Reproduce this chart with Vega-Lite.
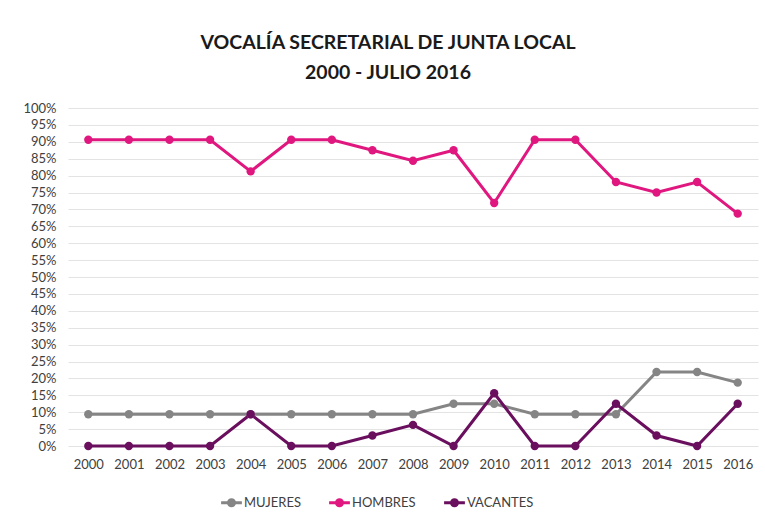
{
  "$schema": "https://vega.github.io/schema/vega-lite/v6.json",
  "width": 690,
  "height": 338,
  "autosize": {"type": "none"},
  "padding": {"left": 68, "top": 108, "right": 7, "bottom": 79},
  "background": "white",
  "title": {
    "text": ["VOCALÍA SECRETARIAL DE JUNTA LOCAL", "2000 - JULIO 2016"],
    "font": "Lato",
    "fontSize": 19.5,
    "fontWeight": "bold",
    "color": "#1a1a1a",
    "lineHeight": 30,
    "anchor": "middle",
    "dx": -25,
    "offset": 19
  },
  "data": {
    "values": [
      {"anio": "2000", "serie": "MUJERES", "valor": 0.094},
      {"anio": "2001", "serie": "MUJERES", "valor": 0.094},
      {"anio": "2002", "serie": "MUJERES", "valor": 0.094},
      {"anio": "2003", "serie": "MUJERES", "valor": 0.094},
      {"anio": "2004", "serie": "MUJERES", "valor": 0.094},
      {"anio": "2005", "serie": "MUJERES", "valor": 0.094},
      {"anio": "2006", "serie": "MUJERES", "valor": 0.094},
      {"anio": "2007", "serie": "MUJERES", "valor": 0.094},
      {"anio": "2008", "serie": "MUJERES", "valor": 0.094},
      {"anio": "2009", "serie": "MUJERES", "valor": 0.125},
      {"anio": "2010", "serie": "MUJERES", "valor": 0.125},
      {"anio": "2011", "serie": "MUJERES", "valor": 0.094},
      {"anio": "2012", "serie": "MUJERES", "valor": 0.094},
      {"anio": "2013", "serie": "MUJERES", "valor": 0.094},
      {"anio": "2014", "serie": "MUJERES", "valor": 0.219},
      {"anio": "2015", "serie": "MUJERES", "valor": 0.219},
      {"anio": "2016", "serie": "MUJERES", "valor": 0.1875},
      {"anio": "2000", "serie": "HOMBRES", "valor": 0.906},
      {"anio": "2001", "serie": "HOMBRES", "valor": 0.906},
      {"anio": "2002", "serie": "HOMBRES", "valor": 0.906},
      {"anio": "2003", "serie": "HOMBRES", "valor": 0.906},
      {"anio": "2004", "serie": "HOMBRES", "valor": 0.8125},
      {"anio": "2005", "serie": "HOMBRES", "valor": 0.906},
      {"anio": "2006", "serie": "HOMBRES", "valor": 0.906},
      {"anio": "2007", "serie": "HOMBRES", "valor": 0.875},
      {"anio": "2008", "serie": "HOMBRES", "valor": 0.844},
      {"anio": "2009", "serie": "HOMBRES", "valor": 0.875},
      {"anio": "2010", "serie": "HOMBRES", "valor": 0.719},
      {"anio": "2011", "serie": "HOMBRES", "valor": 0.906},
      {"anio": "2012", "serie": "HOMBRES", "valor": 0.906},
      {"anio": "2013", "serie": "HOMBRES", "valor": 0.781},
      {"anio": "2014", "serie": "HOMBRES", "valor": 0.75},
      {"anio": "2015", "serie": "HOMBRES", "valor": 0.781},
      {"anio": "2016", "serie": "HOMBRES", "valor": 0.6875},
      {"anio": "2000", "serie": "VACANTES", "valor": 0},
      {"anio": "2001", "serie": "VACANTES", "valor": 0},
      {"anio": "2002", "serie": "VACANTES", "valor": 0},
      {"anio": "2003", "serie": "VACANTES", "valor": 0},
      {"anio": "2004", "serie": "VACANTES", "valor": 0.094},
      {"anio": "2005", "serie": "VACANTES", "valor": 0},
      {"anio": "2006", "serie": "VACANTES", "valor": 0},
      {"anio": "2007", "serie": "VACANTES", "valor": 0.031},
      {"anio": "2008", "serie": "VACANTES", "valor": 0.0625},
      {"anio": "2009", "serie": "VACANTES", "valor": 0},
      {"anio": "2010", "serie": "VACANTES", "valor": 0.156},
      {"anio": "2011", "serie": "VACANTES", "valor": 0},
      {"anio": "2012", "serie": "VACANTES", "valor": 0},
      {"anio": "2013", "serie": "VACANTES", "valor": 0.125},
      {"anio": "2014", "serie": "VACANTES", "valor": 0.031},
      {"anio": "2015", "serie": "VACANTES", "valor": 0},
      {"anio": "2016", "serie": "VACANTES", "valor": 0.125}
    ]
  },
  "mark": {"type": "line", "strokeWidth": 3, "point": {"size": 70, "filled": true}},
  "encoding": {
    "x": {
      "field": "anio",
      "type": "ordinal",
      "scale": {"type": "point", "padding": 0.5},
      "axis": {
        "title": null,
        "labelAngle": 0,
        "domain": false,
        "ticks": false,
        "labelPadding": 12,
        "labelFont": "Lato",
        "labelFontSize": 13,
        "labelColor": "#404040"
      }
    },
    "y": {
      "field": "valor",
      "type": "quantitative",
      "scale": {"domain": [0, 1], "nice": false},
      "axis": {
        "title": null,
        "format": ".0%",
        "values": [0, 0.05, 0.1, 0.15, 0.2, 0.25, 0.3, 0.35, 0.4, 0.45, 0.5, 0.55, 0.6, 0.65, 0.7, 0.75, 0.8, 0.85, 0.9, 0.95, 1],
        "domain": false,
        "ticks": false,
        "labelPadding": 12,
        "labelFont": "Lato",
        "labelFontSize": 13,
        "labelColor": "#404040",
        "gridColor": "#e3e3e3",
        "gridWidth": 1
      }
    },
    "color": {
      "field": "serie",
      "type": "nominal",
      "sort": ["MUJERES", "HOMBRES", "VACANTES"],
      "scale": {"domain": ["MUJERES", "HOMBRES", "VACANTES"], "range": ["#858585", "#e0177f", "#6a0f5e"]},
      "legend": {
        "title": null,
        "orient": "none",
        "direction": "horizontal",
        "legendX": 153,
        "legendY": 384,
        "symbolType": "M-1.2,0L1.2,0M0.35,0A0.35,0.35 0 1 1 -0.35,0A0.35,0.35 0 1 1 0.35,0",
        "symbolSize": 300,
        "symbolStrokeWidth": 3,
        "labelFont": "Lato",
        "labelFontSize": 13,
        "labelColor": "#404040",
        "columnPadding": 22,
        "labelOffset": 2
      }
    }
  },
  "config": {
    "view": {"stroke": null}
  }
}
